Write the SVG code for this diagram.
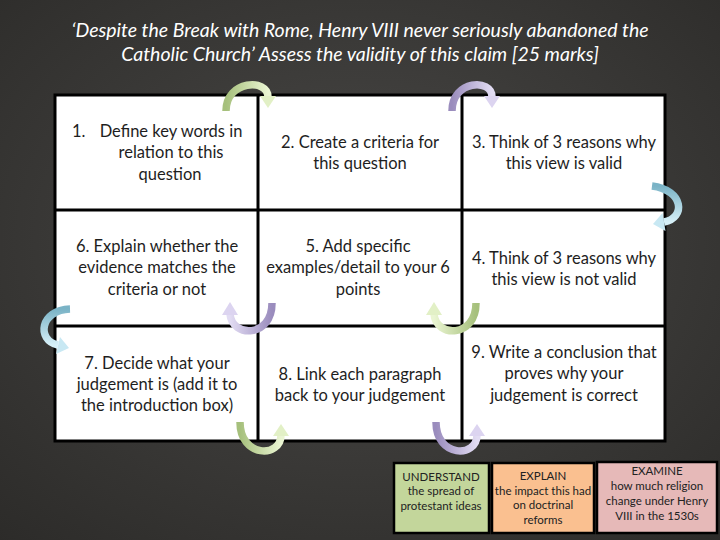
<svg xmlns="http://www.w3.org/2000/svg" width="720" height="540" viewBox="0 0 720 540">
<defs>
<radialGradient id="bg" cx="0.5" cy="0.45" r="0.75">
<stop offset="0" stop-color="#4a4947"/>
<stop offset="1" stop-color="#2c2b29"/>
</radialGradient>
<linearGradient id="gG" x1="0" y1="0" x2="1" y2="0"><stop offset="0" stop-color="#a6c07c"/><stop offset="1" stop-color="#eaf5d2"/></linearGradient>
<linearGradient id="gGr" x1="1" y1="0" x2="0" y2="0"><stop offset="0" stop-color="#a6c07c"/><stop offset="1" stop-color="#eaf5d2"/></linearGradient>
<linearGradient id="gP" x1="0" y1="0" x2="1" y2="0"><stop offset="0" stop-color="#9a8cbd"/><stop offset="1" stop-color="#e2dcf3"/></linearGradient>
<linearGradient id="gPr" x1="1" y1="0" x2="0" y2="0"><stop offset="0" stop-color="#9a8cbd"/><stop offset="1" stop-color="#e2dcf3"/></linearGradient>
<linearGradient id="gB" x1="0" y1="0" x2="0" y2="1"><stop offset="0" stop-color="#7ab3c6"/><stop offset="1" stop-color="#d6f0f8"/></linearGradient>
<style>
.title{font-family:Lato,"Liberation Sans",sans-serif;font-style:italic;font-size:19.5px;fill:#ffffff;text-anchor:middle}
.cell{font-family:Lato,"Liberation Sans",sans-serif;font-size:16.5px;fill:#1e1e1e;text-anchor:middle}
.small{font-family:Lato,"Liberation Sans",sans-serif;font-size:11.5px;fill:#222;text-anchor:middle}
.grid{fill:#ffffff;stroke:#000;stroke-width:3}
.line{stroke:#000;stroke-width:3}
.box{stroke:#000;stroke-width:2.5}
.band{fill:none;stroke-width:7.5}
</style>
</defs>
<rect x="0" y="0" width="720" height="540" fill="url(#bg)"/>
<text class="title" x="360" y="37">‘Despite the Break with Rome, Henry VIII never seriously abandoned the</text>
<text class="title" x="360" y="61">Catholic Church’ Assess the validity of this claim [25 marks]</text>

<g id="grid">
<rect class="grid" x="55" y="95" width="610" height="346"/>
<line class="line" x1="258" y1="95" x2="258" y2="441"/>
<line class="line" x1="462" y1="95" x2="462" y2="441"/>
<line class="line" x1="55" y1="210" x2="665" y2="210"/>
<line class="line" x1="55" y1="326" x2="665" y2="326"/>
</g>

<g id="cell1"><text class="cell" x="72" y="137" style="text-anchor:start">1.</text><text class="cell" x="171" y="137">Define key words in</text><text class="cell" x="171" y="158">relation to this</text><text class="cell" x="170" y="180">question</text></g>
<g id="cell2"><text class="cell" x="360" y="148">2. Create a criteria for</text><text class="cell" x="360" y="169">this question</text></g>
<g id="cell3"><text class="cell" x="564" y="148">3. Think of 3 reasons why</text><text class="cell" x="564" y="169">this view is valid</text></g>
<g id="cell6"><text class="cell" x="157" y="252">6. Explain whether the</text><text class="cell" x="157" y="273">evidence matches the</text><text class="cell" x="157" y="295">criteria or not</text></g>
<g id="cell5"><text class="cell" x="358" y="252">5. Add specific</text><text class="cell" x="358" y="273">examples/detail to your 6</text><text class="cell" x="358" y="295">points</text></g>
<g id="cell4"><text class="cell" x="564" y="264">4. Think of 3 reasons why</text><text class="cell" x="564" y="285">this view is not valid</text></g>
<g id="cell7"><text class="cell" x="157" y="369">7. Decide what your</text><text class="cell" x="157" y="390">judgement is (add it to</text><text class="cell" x="157" y="411">the introduction box)</text></g>
<g id="cell8"><text class="cell" x="360" y="380">8. Link each paragraph</text><text class="cell" x="360" y="401">back to your judgement</text></g>
<g id="cell9"><text class="cell" x="564" y="358">9. Write a conclusion that</text><text class="cell" x="564" y="379">proves why your</text><text class="cell" x="564" y="401">judgement is correct</text></g>

<g id="connectors">
<path class="band" stroke="url(#gG)" d="M226,111 C226,80 268,78 268,97"/>
<polygon fill="#e2f0c6" points="260,96 276,96 268,108"/>
<path class="band" stroke="url(#gP)" d="M452,111 C452,80 492,78 492,97"/>
<polygon fill="#dcd4f0" points="484,96 500,96 492,108"/>
<path class="band" stroke="url(#gB)" d="M652,186 C684,190 686,218 664,222"/>
<polygon fill="#c8e8f3" points="665.5,231 662.5,213 653,224"/>
<path class="band" stroke="url(#gPr)" d="M272,303 C272,338 232,338 230,314"/>
<polygon fill="#dcd4f0" points="222,315 238,315 230,302"/>
<path class="band" stroke="url(#gGr)" d="M476,303 C476,338 436,338 434,314"/>
<polygon fill="#e2f0c6" points="426,315 442,315 434,302"/>
<path class="band" stroke="url(#gB)" d="M70,309 C40,310 36,340 58,345"/>
<polygon fill="#c8e8f3" points="60,337 56,354 69,348"/>
<path class="band" stroke="url(#gG)" d="M240,422 C240,458 281,458 281,435"/>
<polygon fill="#e2f0c6" points="273,436 289,436 281,424"/>
<path class="band" stroke="url(#gP)" d="M436,422 C436,458 477,458 477,435"/>
<polygon fill="#dcd4f0" points="469,436 485,436 477,424"/>
</g>

<g id="understand"><rect class="box" x="394" y="463" width="95" height="70" fill="#c3d69b"/><text class="small" x="441" y="481">UNDERSTAND</text><text class="small" x="441" y="495">the spread of</text><text class="small" x="441" y="510">protestant ideas</text></g>
<g id="explain"><rect class="box" x="492" y="463" width="102" height="70" fill="#fac090"/><text class="small" x="543" y="480">EXPLAIN</text><text class="small" x="543" y="495">the impact this had</text><text class="small" x="543" y="509">on doctrinal</text><text class="small" x="543" y="524">reforms</text></g>
<g id="examine"><rect class="box" x="597" y="462" width="120" height="71" fill="#e6b9b8"/><text class="small" x="657" y="475">EXAMINE</text><text class="small" x="657" y="490">how much religion</text><text class="small" x="657" y="505">change under Henry</text><text class="small" x="657" y="520">VIII in the 1530s</text></g>
</svg>
